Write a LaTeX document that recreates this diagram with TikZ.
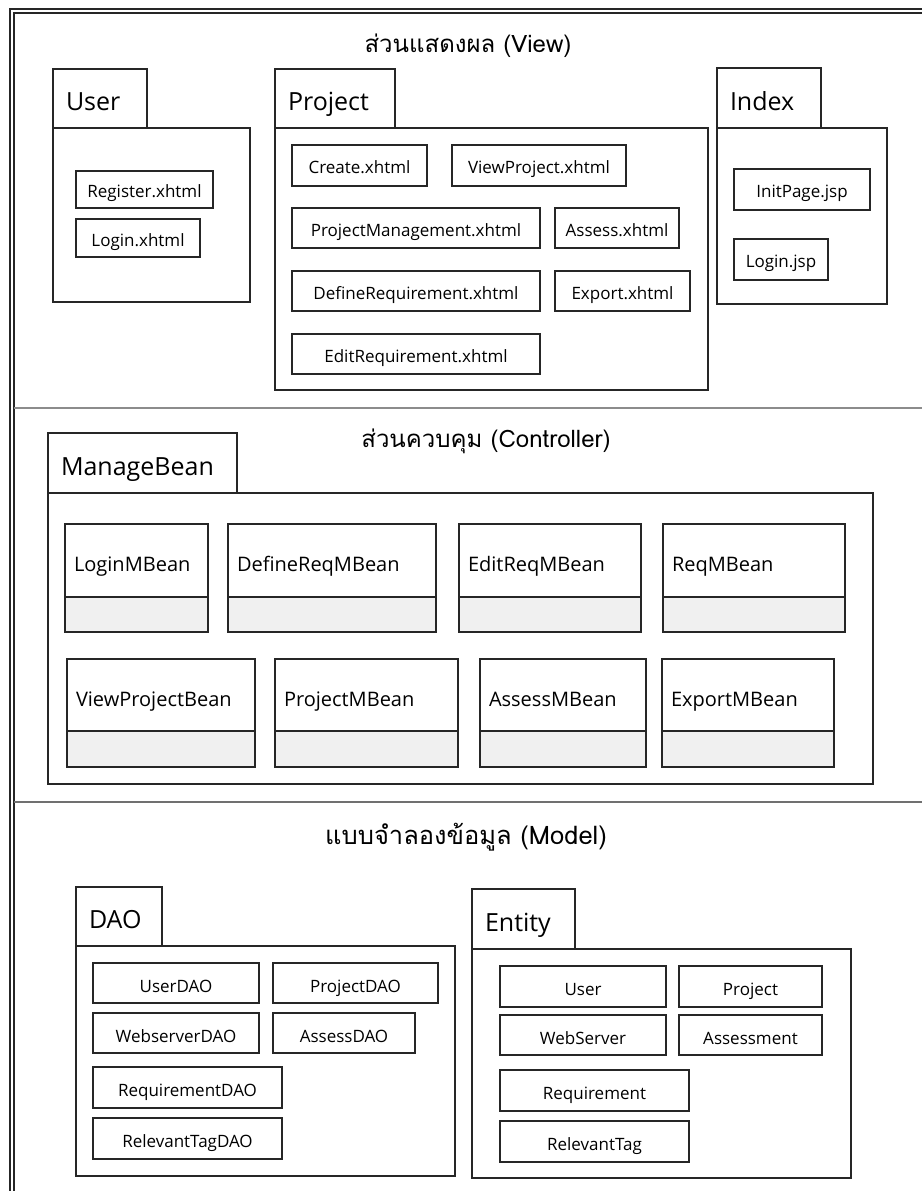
\documentclass[tikz,border=0pt]{standalone}
\usepackage{fontspec}
\setmainfont{Open Sans}
\newfontfamily\thaifont[Script=Thai]{Loma}

\definecolor{ink}{HTML}{262626}
\definecolor{rule}{HTML}{8C8C8C}
\definecolor{opfill}{HTML}{F0F0F0}

\tikzset{
  ln/.style={draw=ink, line width=1.3pt},
  body/.style={ln, fill=white, inner sep=0pt, outer sep=0pt},
  tab/.style={ln, fill=white, inner ysep=0pt, inner xsep=13pt, outer sep=0pt,
    align=left, text height=24pt, text depth=0pt,
    font=\fontsize{25}{28}\selectfont},
  item/.style={ln, fill=white, inner sep=0pt, outer sep=0pt,
    text height=16.2pt, text depth=0pt, font=\fontsize{17}{20}\selectfont},
  mitem/.style={item, text height=18.4pt},
  beanname/.style={ln, fill=white, inner ysep=0pt, inner xsep=9pt, outer sep=0pt,
    align=left, text height=22.4pt, text depth=0pt,
    font=\fontsize{20}{24}\selectfont},
  beanops/.style={ln, fill=opfill, inner sep=0pt, outer sep=0pt},
  heading/.style={font=\thaifont\fontsize{24}{28}\selectfont, inner sep=0pt},
}

% box from its corners (x1,y1)-(x2,y2), y measured downwards
\newcommand\boxat[7][item]{%
  \node[#1, minimum width={(#5-#3)*1pt}, minimum height={(#6-#4)*1pt}]
    (#2) at ({(#3+#5)/2},{(#4+#6)/2}) {#7};}
% package tab with left-aligned title
\newcommand\tabat[6]{%
  \node[tab, text width={(#4-#2-26)*1pt}, minimum height={(#5-#3)*1pt}]
    (#1) at ({(#2+#4)/2},{(#3+#5)/2}) {#6};}
% bean: name compartment and shaded operations compartment
\newcommand\bean[7]{%
  \node[beanname, text width={(#3-#2-18)*1pt}, minimum height={(#5-#4)*1pt}]
    (#1) at ({(#2+#3)/2},{(#4+#5)/2}) {#7};
  \node[beanops, minimum width={(#3-#2)*1pt}, minimum height={(#6-#5)*1pt}]
    (#1-ops) at ({(#2+#3)/2},{(#5+#6)/2}) {};}

\begin{document}
\begin{tikzpicture}[x=1pt, y=-1pt]
\useasboundingbox[fill=white] (0,0) rectangle (922,1191);

% outer double frame
\draw[ink, line width=1.2pt] (10,1191) -- (10,9) -- (922,9);
\draw[ink, line width=1.2pt] (14,1191) -- (14,13) -- (922,13);

% layer separators
\draw[rule, line width=1.3pt] (14,408) -- (922,408);
\draw[rule!80!black, line width=1.3pt] (14,802) -- (922,802);

% ---------------- View ----------------
\node[heading] (viewtitle) at (468,46) {ส่วนแสดงผล (View)};

\boxat[body]{userbody}{53}{128}{250}{302}{}
\tabat{usertab}{53}{69}{147}{128}{User}
\boxat{register}{76}{171}{213}{208}{Register.xhtml}
\boxat{loginx}{76}{219}{200}{257}{Login.xhtml}

\boxat[body]{projbody}{275}{128}{708}{390}{}
\tabat{projtab}{275}{69}{395}{128}{Project}
\boxat{create}{292}{145}{427}{186}{Create.xhtml}
\boxat{viewproj}{452}{145}{626}{186}{ViewProject.xhtml}
\boxat{projman}{292}{208}{540}{248}{ProjectManagement.xhtml}
\boxat{assess}{555}{208}{679}{248}{Assess.xhtml}
\boxat{definereq}{292}{271}{540}{311}{DefineRequirement.xhtml}
\boxat{export}{555}{271}{690}{311}{Export.xhtml}
\boxat{editreq}{292}{334}{540}{374}{EditRequirement.xhtml}

\boxat[body]{indexbody}{717}{128}{887}{304}{}
\tabat{indextab}{717}{68}{821}{128}{Index}
\boxat{initpage}{734}{169}{870}{210}{InitPage.jsp}
\boxat{loginjsp}{734}{239}{828}{280}{Login.jsp}

% ---------------- Controller ----------------
\node[heading] (ctrltitle) at (486,441) {ส่วนควบคุม (Controller)};

\boxat[body]{mbbody}{48}{493}{873}{784}{}
\tabat{mbtab}{48}{433}{237}{493}{ManageBean}
\bean{loginmb}{65}{208}{524}{597}{632}{LoginMBean}
\bean{definemb}{228}{436}{524}{597}{632}{DefineReqMBean}
\bean{editmb}{459}{641}{524}{597}{632}{EditReqMBean}
\bean{reqmb}{663}{845}{524}{597}{632}{ReqMBean}
\bean{viewpb}{67}{255}{659}{731}{767}{ViewProjectBean}
\bean{projmb}{275}{458}{659}{731}{767}{ProjectMBean}
\bean{assessmb}{480}{646}{659}{731}{767}{AssessMBean}
\bean{exportmb}{662}{834}{659}{731}{767}{ExportMBean}

% ---------------- Model ----------------
\node[heading, font=\thaifont\fontsize{25.5}{30}\selectfont] (modeltitle) at (466,837) {แบบจำลองข้อมูล (Model)};

\boxat[body]{daobody}{76}{946}{455}{1176}{}
\tabat{daotab}{76}{887}{162}{946}{DAO}
\boxat[mitem]{userdao}{93}{963}{259}{1003}{UserDAO}
\boxat[mitem]{projdao}{273}{963}{438}{1003}{ProjectDAO}
\boxat[mitem]{webdao}{93}{1013}{259}{1053}{WebserverDAO}
\boxat[mitem]{assessdao}{273}{1013}{415}{1053}{AssessDAO}
\boxat[mitem]{reqdao}{93}{1067}{282}{1108}{RequirementDAO}
\boxat[mitem]{reltagdao}{93}{1118}{282}{1159}{RelevantTagDAO}

\boxat[body]{entbody}{472}{949}{851}{1178}{}
\tabat{enttab}{472}{889}{575}{949}{Entity}
\boxat[mitem]{userent}{500}{966}{666}{1007}{User}
\boxat[mitem]{projent}{679}{966}{822}{1007}{Project}
\boxat[mitem]{webent}{500}{1015}{666}{1055}{WebServer}
\boxat[mitem]{assessent}{679}{1015}{822}{1055}{Assessment}
\boxat[mitem]{reqent}{500}{1070}{689}{1111}{Requirement}
\boxat[mitem]{reltagent}{500}{1121}{689}{1162}{RelevantTag}
\end{tikzpicture}
\end{document}
